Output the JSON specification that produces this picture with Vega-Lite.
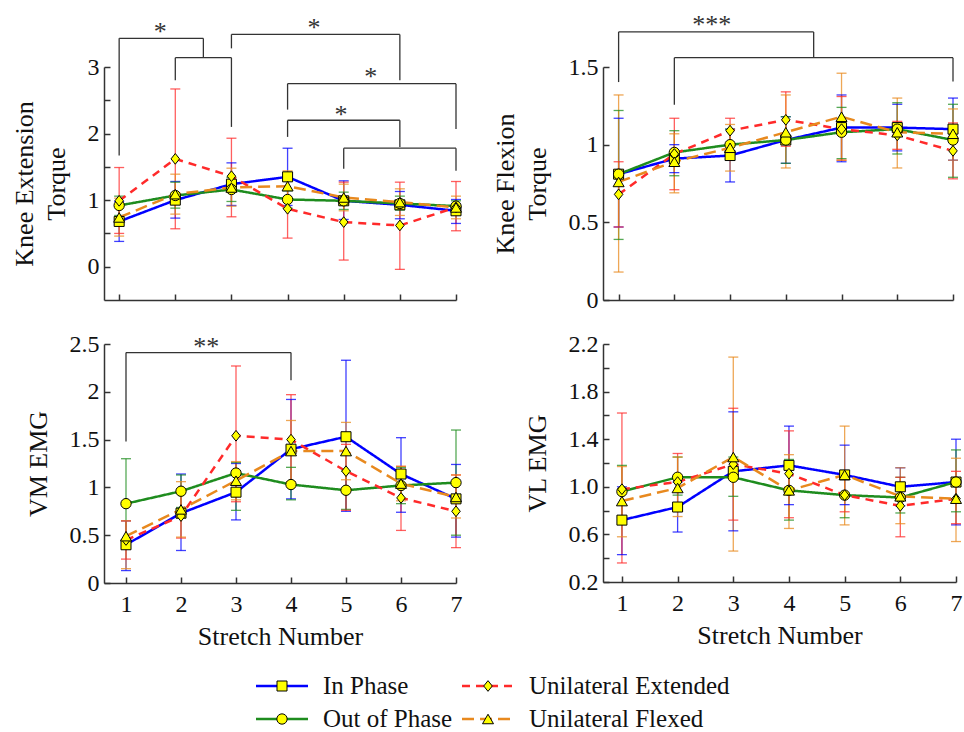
{
  "$schema": "https://vega.github.io/schema/vega-lite/v6.json",
  "padding": {"left": 11, "top": 11, "right": 5, "bottom": 0},
  "background": "white",
  "datasets": {
    "stats": [
      {"panel": "ext", "series": "In Phase", "stretch": 1, "mean": 0.68, "lo": 0.38, "hi": 0.98},
      {"panel": "ext", "series": "In Phase", "stretch": 2, "mean": 1.0, "lo": 0.73, "hi": 1.28},
      {"panel": "ext", "series": "In Phase", "stretch": 3, "mean": 1.24, "lo": 0.92, "hi": 1.56},
      {"panel": "ext", "series": "In Phase", "stretch": 4, "mean": 1.35, "lo": 0.92, "hi": 1.78},
      {"panel": "ext", "series": "In Phase", "stretch": 5, "mean": 0.99, "lo": 0.71, "hi": 1.29},
      {"panel": "ext", "series": "In Phase", "stretch": 6, "mean": 0.93, "lo": 0.72, "hi": 1.13},
      {"panel": "ext", "series": "In Phase", "stretch": 7, "mean": 0.84, "lo": 0.65, "hi": 1.01},
      {"panel": "ext", "series": "Out of Phase", "stretch": 1, "mean": 0.92, "lo": 0.77, "hi": 1.06},
      {"panel": "ext", "series": "Out of Phase", "stretch": 2, "mean": 1.07, "lo": 0.88, "hi": 1.27},
      {"panel": "ext", "series": "Out of Phase", "stretch": 3, "mean": 1.16, "lo": 0.98, "hi": 1.34},
      {"panel": "ext", "series": "Out of Phase", "stretch": 4, "mean": 1.01, "lo": 0.88, "hi": 1.14},
      {"panel": "ext", "series": "Out of Phase", "stretch": 5, "mean": 0.99, "lo": 0.86, "hi": 1.12},
      {"panel": "ext", "series": "Out of Phase", "stretch": 6, "mean": 0.95, "lo": 0.85, "hi": 1.06},
      {"panel": "ext", "series": "Out of Phase", "stretch": 7, "mean": 0.91, "lo": 0.83, "hi": 0.99},
      {"panel": "ext", "series": "Unilateral Extended", "stretch": 1, "mean": 0.99, "lo": 0.5, "hi": 1.49},
      {"panel": "ext", "series": "Unilateral Extended", "stretch": 2, "mean": 1.62, "lo": 0.57, "hi": 2.67},
      {"panel": "ext", "series": "Unilateral Extended", "stretch": 3, "mean": 1.36, "lo": 0.75, "hi": 1.93},
      {"panel": "ext", "series": "Unilateral Extended", "stretch": 4, "mean": 0.87, "lo": 0.43, "hi": 1.33},
      {"panel": "ext", "series": "Unilateral Extended", "stretch": 5, "mean": 0.67, "lo": 0.1, "hi": 1.27},
      {"panel": "ext", "series": "Unilateral Extended", "stretch": 6, "mean": 0.62, "lo": -0.04, "hi": 1.27},
      {"panel": "ext", "series": "Unilateral Extended", "stretch": 7, "mean": 0.89, "lo": 0.54, "hi": 1.28},
      {"panel": "ext", "series": "Unilateral Flexed", "stretch": 1, "mean": 0.74, "lo": 0.46, "hi": 1.03},
      {"panel": "ext", "series": "Unilateral Flexed", "stretch": 2, "mean": 1.09, "lo": 0.79, "hi": 1.39},
      {"panel": "ext", "series": "Unilateral Flexed", "stretch": 3, "mean": 1.19, "lo": 0.91, "hi": 1.48},
      {"panel": "ext", "series": "Unilateral Flexed", "stretch": 4, "mean": 1.21, "lo": 0.98, "hi": 1.44},
      {"panel": "ext", "series": "Unilateral Flexed", "stretch": 5, "mean": 1.04, "lo": 0.84, "hi": 1.24},
      {"panel": "ext", "series": "Unilateral Flexed", "stretch": 6, "mean": 0.97, "lo": 0.77, "hi": 1.17},
      {"panel": "ext", "series": "Unilateral Flexed", "stretch": 7, "mean": 0.89, "lo": 0.72, "hi": 1.06},

      {"panel": "flx", "series": "In Phase", "stretch": 1, "mean": 0.81, "lo": 0.47, "hi": 1.17},
      {"panel": "flx", "series": "In Phase", "stretch": 2, "mean": 0.91, "lo": 0.82, "hi": 1.0},
      {"panel": "flx", "series": "In Phase", "stretch": 3, "mean": 0.93, "lo": 0.76, "hi": 1.1},
      {"panel": "flx", "series": "In Phase", "stretch": 4, "mean": 1.03, "lo": 0.88, "hi": 1.18},
      {"panel": "flx", "series": "In Phase", "stretch": 5, "mean": 1.11, "lo": 0.89, "hi": 1.32},
      {"panel": "flx", "series": "In Phase", "stretch": 6, "mean": 1.11, "lo": 0.96, "hi": 1.26},
      {"panel": "flx", "series": "In Phase", "stretch": 7, "mean": 1.1, "lo": 0.9, "hi": 1.3},
      {"panel": "flx", "series": "Out of Phase", "stretch": 1, "mean": 0.81, "lo": 0.39, "hi": 1.22},
      {"panel": "flx", "series": "Out of Phase", "stretch": 2, "mean": 0.95, "lo": 0.8, "hi": 1.09},
      {"panel": "flx", "series": "Out of Phase", "stretch": 3, "mean": 1.0, "lo": 0.9, "hi": 1.1},
      {"panel": "flx", "series": "Out of Phase", "stretch": 4, "mean": 1.03, "lo": 0.88, "hi": 1.18},
      {"panel": "flx", "series": "Out of Phase", "stretch": 5, "mean": 1.08, "lo": 0.91, "hi": 1.24},
      {"panel": "flx", "series": "Out of Phase", "stretch": 6, "mean": 1.1, "lo": 0.94, "hi": 1.27},
      {"panel": "flx", "series": "Out of Phase", "stretch": 7, "mean": 1.03, "lo": 0.79, "hi": 1.26},
      {"panel": "flx", "series": "Unilateral Extended", "stretch": 1, "mean": 0.68, "lo": 0.47, "hi": 0.89},
      {"panel": "flx", "series": "Unilateral Extended", "stretch": 2, "mean": 0.94, "lo": 0.71, "hi": 1.17},
      {"panel": "flx", "series": "Unilateral Extended", "stretch": 3, "mean": 1.09, "lo": 1.0, "hi": 1.17},
      {"panel": "flx", "series": "Unilateral Extended", "stretch": 4, "mean": 1.16, "lo": 0.99, "hi": 1.34},
      {"panel": "flx", "series": "Unilateral Extended", "stretch": 5, "mean": 1.1, "lo": 0.9, "hi": 1.31},
      {"panel": "flx", "series": "Unilateral Extended", "stretch": 6, "mean": 1.06, "lo": 0.97, "hi": 1.15},
      {"panel": "flx", "series": "Unilateral Extended", "stretch": 7, "mean": 0.96, "lo": 0.78, "hi": 1.14},
      {"panel": "flx", "series": "Unilateral Flexed", "stretch": 1, "mean": 0.76, "lo": 0.18, "hi": 1.32},
      {"panel": "flx", "series": "Unilateral Flexed", "stretch": 2, "mean": 0.89, "lo": 0.69, "hi": 1.07},
      {"panel": "flx", "series": "Unilateral Flexed", "stretch": 3, "mean": 0.98, "lo": 0.83, "hi": 1.13},
      {"panel": "flx", "series": "Unilateral Flexed", "stretch": 4, "mean": 1.08, "lo": 0.85, "hi": 1.32},
      {"panel": "flx", "series": "Unilateral Flexed", "stretch": 5, "mean": 1.18, "lo": 0.9, "hi": 1.46},
      {"panel": "flx", "series": "Unilateral Flexed", "stretch": 6, "mean": 1.08, "lo": 0.85, "hi": 1.3},
      {"panel": "flx", "series": "Unilateral Flexed", "stretch": 7, "mean": 1.07, "lo": 0.9, "hi": 1.23},

      {"panel": "vm", "series": "In Phase", "stretch": 1, "mean": 0.4, "lo": 0.13, "hi": 0.65},
      {"panel": "vm", "series": "In Phase", "stretch": 2, "mean": 0.73, "lo": 0.34, "hi": 1.14},
      {"panel": "vm", "series": "In Phase", "stretch": 3, "mean": 0.95, "lo": 0.66, "hi": 1.25},
      {"panel": "vm", "series": "In Phase", "stretch": 4, "mean": 1.4, "lo": 0.88, "hi": 1.92},
      {"panel": "vm", "series": "In Phase", "stretch": 5, "mean": 1.53, "lo": 0.75, "hi": 2.33},
      {"panel": "vm", "series": "In Phase", "stretch": 6, "mean": 1.14, "lo": 0.74, "hi": 1.52},
      {"panel": "vm", "series": "In Phase", "stretch": 7, "mean": 0.88, "lo": 0.48, "hi": 1.24},
      {"panel": "vm", "series": "Out of Phase", "stretch": 1, "mean": 0.83, "lo": 0.36, "hi": 1.3},
      {"panel": "vm", "series": "Out of Phase", "stretch": 2, "mean": 0.96, "lo": 0.79, "hi": 1.13},
      {"panel": "vm", "series": "Out of Phase", "stretch": 3, "mean": 1.15, "lo": 0.76, "hi": 1.26},
      {"panel": "vm", "series": "Out of Phase", "stretch": 4, "mean": 1.03, "lo": 0.87, "hi": 1.21},
      {"panel": "vm", "series": "Out of Phase", "stretch": 5, "mean": 0.97, "lo": 0.77, "hi": 1.17},
      {"panel": "vm", "series": "Out of Phase", "stretch": 6, "mean": 1.02, "lo": 0.83, "hi": 1.21},
      {"panel": "vm", "series": "Out of Phase", "stretch": 7, "mean": 1.05, "lo": 0.5, "hi": 1.6},
      {"panel": "vm", "series": "Unilateral Extended", "stretch": 1, "mean": 0.45, "lo": 0.25, "hi": 0.65},
      {"panel": "vm", "series": "Unilateral Extended", "stretch": 2, "mean": 0.7, "lo": 0.47, "hi": 0.98},
      {"panel": "vm", "series": "Unilateral Extended", "stretch": 3, "mean": 1.54, "lo": 0.85, "hi": 2.27},
      {"panel": "vm", "series": "Unilateral Extended", "stretch": 4, "mean": 1.5, "lo": 1.03, "hi": 1.97},
      {"panel": "vm", "series": "Unilateral Extended", "stretch": 5, "mean": 1.17, "lo": 0.76, "hi": 1.45},
      {"panel": "vm", "series": "Unilateral Extended", "stretch": 6, "mean": 0.89, "lo": 0.55, "hi": 1.22},
      {"panel": "vm", "series": "Unilateral Extended", "stretch": 7, "mean": 0.75, "lo": 0.37, "hi": 1.13},
      {"panel": "vm", "series": "Unilateral Flexed", "stretch": 1, "mean": 0.49, "lo": 0.15, "hi": 0.65},
      {"panel": "vm", "series": "Unilateral Flexed", "stretch": 2, "mean": 0.77, "lo": 0.48, "hi": 1.06},
      {"panel": "vm", "series": "Unilateral Flexed", "stretch": 3, "mean": 1.07, "lo": 0.87, "hi": 1.27},
      {"panel": "vm", "series": "Unilateral Flexed", "stretch": 4, "mean": 1.38, "lo": 1.06, "hi": 1.7},
      {"panel": "vm", "series": "Unilateral Flexed", "stretch": 5, "mean": 1.38, "lo": 1.08, "hi": 1.68},
      {"panel": "vm", "series": "Unilateral Flexed", "stretch": 6, "mean": 1.04, "lo": 0.86, "hi": 1.22},
      {"panel": "vm", "series": "Unilateral Flexed", "stretch": 7, "mean": 0.9, "lo": 0.68, "hi": 1.13},

      {"panel": "vl", "series": "In Phase", "stretch": 1, "mean": 0.72, "lo": 0.43, "hi": 1.0},
      {"panel": "vl", "series": "In Phase", "stretch": 2, "mean": 0.83, "lo": 0.62, "hi": 1.04},
      {"panel": "vl", "series": "In Phase", "stretch": 3, "mean": 1.13, "lo": 0.63, "hi": 1.63},
      {"panel": "vl", "series": "In Phase", "stretch": 4, "mean": 1.18, "lo": 0.85, "hi": 1.51},
      {"panel": "vl", "series": "In Phase", "stretch": 5, "mean": 1.1, "lo": 0.85, "hi": 1.35},
      {"panel": "vl", "series": "In Phase", "stretch": 6, "mean": 1.0, "lo": 0.84, "hi": 1.16},
      {"panel": "vl", "series": "In Phase", "stretch": 7, "mean": 1.04, "lo": 0.68, "hi": 1.4},
      {"panel": "vl", "series": "Out of Phase", "stretch": 1, "mean": 0.96, "lo": 0.74, "hi": 1.18},
      {"panel": "vl", "series": "Out of Phase", "stretch": 2, "mean": 1.08, "lo": 0.93, "hi": 1.25},
      {"panel": "vl", "series": "Out of Phase", "stretch": 3, "mean": 1.08, "lo": 0.92, "hi": 1.25},
      {"panel": "vl", "series": "Out of Phase", "stretch": 4, "mean": 0.97, "lo": 0.72, "hi": 1.23},
      {"panel": "vl", "series": "Out of Phase", "stretch": 5, "mean": 0.93, "lo": 0.74, "hi": 1.13},
      {"panel": "vl", "series": "Out of Phase", "stretch": 6, "mean": 0.91, "lo": 0.78, "hi": 1.08},
      {"panel": "vl", "series": "Out of Phase", "stretch": 7, "mean": 1.04, "lo": 0.79, "hi": 1.31},
      {"panel": "vl", "series": "Unilateral Extended", "stretch": 1, "mean": 0.98, "lo": 0.36, "hi": 1.62},
      {"panel": "vl", "series": "Unilateral Extended", "stretch": 2, "mean": 1.04, "lo": 0.8, "hi": 1.28},
      {"panel": "vl", "series": "Unilateral Extended", "stretch": 3, "mean": 1.19, "lo": 0.72, "hi": 1.66},
      {"panel": "vl", "series": "Unilateral Extended", "stretch": 4, "mean": 1.11, "lo": 0.74, "hi": 1.47},
      {"panel": "vl", "series": "Unilateral Extended", "stretch": 5, "mean": 0.93, "lo": 0.79, "hi": 1.08},
      {"panel": "vl", "series": "Unilateral Extended", "stretch": 6, "mean": 0.84, "lo": 0.58, "hi": 1.08},
      {"panel": "vl", "series": "Unilateral Extended", "stretch": 7, "mean": 0.9, "lo": 0.69, "hi": 1.13},
      {"panel": "vl", "series": "Unilateral Flexed", "stretch": 1, "mean": 0.88, "lo": 0.58, "hi": 1.17},
      {"panel": "vl", "series": "Unilateral Flexed", "stretch": 2, "mean": 0.99, "lo": 0.75, "hi": 1.25},
      {"panel": "vl", "series": "Unilateral Flexed", "stretch": 3, "mean": 1.25, "lo": 0.46, "hi": 2.09},
      {"panel": "vl", "series": "Unilateral Flexed", "stretch": 4, "mean": 0.97, "lo": 0.65, "hi": 1.27},
      {"panel": "vl", "series": "Unilateral Flexed", "stretch": 5, "mean": 1.1, "lo": 0.68, "hi": 1.51},
      {"panel": "vl", "series": "Unilateral Flexed", "stretch": 6, "mean": 0.92, "lo": 0.69, "hi": 1.16},
      {"panel": "vl", "series": "Unilateral Flexed", "stretch": 7, "mean": 0.9, "lo": 0.54, "hi": 1.24}
    ],
    "brackets": [
      {"panel": "ext", "from": 1, "to": 2.5, "top": 3.43, "leftEnd": 1.67, "rightEnd": 3.14},
      {"panel": "ext", "from": 2, "to": 3, "top": 3.14, "leftEnd": 2.8, "rightEnd": 2.1},
      {"panel": "ext", "from": 3, "to": 6, "top": 3.49, "leftEnd": 3.28, "rightEnd": 2.8},
      {"panel": "ext", "from": 4, "to": 7, "top": 2.75, "leftEnd": 2.36, "rightEnd": 2.07},
      {"panel": "ext", "from": 4, "to": 6, "top": 2.2, "leftEnd": 1.95, "rightEnd": 1.8},
      {"panel": "ext", "from": 5, "to": 7, "top": 1.78, "leftEnd": 1.47, "rightEnd": 1.44},
      {"panel": "flx", "from": 1, "to": 4.5, "top": 1.726, "leftEnd": 1.403, "rightEnd": 1.56},
      {"panel": "flx", "from": 2, "to": 7, "top": 1.56, "leftEnd": 1.257, "rightEnd": 1.407},
      {"panel": "vm", "from": 1, "to": 4, "top": 2.41, "leftEnd": 1.48, "rightEnd": 2.12}
    ],
    "stars": [
      {"panel": "ext", "at": 1.73, "level": 3.6, "mark": "*"},
      {"panel": "ext", "at": 4.47, "level": 3.66, "mark": "*"},
      {"panel": "ext", "at": 5.48, "level": 2.93, "mark": "*"},
      {"panel": "ext", "at": 4.95, "level": 2.36, "mark": "*"},
      {"panel": "flx", "at": 2.67, "level": 1.805, "mark": "***"},
      {"panel": "vm", "at": 2.46, "level": 2.52, "mark": "**"}
    ],
    "key": [
      {"series": "In Phase", "group": "Bilateral", "slot": "upper"},
      {"series": "Out of Phase", "group": "Bilateral", "slot": "lower"},
      {"series": "Unilateral Extended", "group": "Unilateral", "slot": "upper"},
      {"series": "Unilateral Flexed", "group": "Unilateral", "slot": "lower"}
    ]
  },
  "vconcat": [
    {
      "columns": 2,
      "spacing": {"row": 20, "column": 28},
      "concat": [
        {
          "width": 352, "height": 233,
          "encoding": {
            "x": {"field": "stretch", "type": "quantitative", "scale": {"domain": [0.73, 7], "nice": false, "zero": false}, "axis": {"values": [1, 2, 3, 4, 5, 6, 7], "labels": false, "title": null}},
            "y": {"field": "mean", "type": "quantitative", "scale": {"domain": [-0.5, 3], "nice": false, "zero": false}, "axis": {"values": [0, 0.5, 1, 1.5, 2, 2.5, 3], "labelExpr": "datum.value % 1 === 0 ? format(datum.value, 'd') : ''", "title": ["Knee Extension", "Torque"]}}
          },
          "layer": [
            {"data": {"name": "stats"}, "transform": [{"filter": "datum.panel === 'ext'"}], "mark": {"type": "rule", "strokeWidth": 1.3, "opacity": 0.75}, "encoding": {"y": {"field": "lo", "type": "quantitative"}, "y2": {"field": "hi"}, "color": {"field": "series", "type": "nominal", "scale": {"domain": ["In Phase", "Out of Phase", "Unilateral Extended", "Unilateral Flexed"], "range": ["#0000FF", "#1E8C1E", "#FF2A2A", "#E8891E"]}, "legend": null}}},
            {"data": {"name": "stats"}, "transform": [{"filter": "datum.panel === 'ext'"}], "mark": {"type": "tick", "orient": "horizontal", "size": 10, "thickness": 1.3, "opacity": 0.75}, "encoding": {"y": {"field": "lo", "type": "quantitative"}, "color": {"field": "series", "type": "nominal", "legend": null}}},
            {"data": {"name": "stats"}, "transform": [{"filter": "datum.panel === 'ext'"}], "mark": {"type": "tick", "orient": "horizontal", "size": 10, "thickness": 1.3, "opacity": 0.75}, "encoding": {"y": {"field": "hi", "type": "quantitative"}, "color": {"field": "series", "type": "nominal", "legend": null}}},
            {"data": {"name": "stats"}, "transform": [{"filter": "datum.panel === 'ext'"}], "mark": {"type": "line", "strokeWidth": 2.5}, "encoding": {"color": {"field": "series", "type": "nominal", "legend": null}, "strokeDash": {"field": "series", "type": "nominal", "scale": {"domain": ["In Phase", "Out of Phase", "Unilateral Extended", "Unilateral Flexed"], "range": [[1, 0], [1, 0], [8, 6], [12, 6]]}, "legend": null}}},
            {"data": {"name": "stats"}, "transform": [{"filter": "datum.panel === 'ext'"}], "mark": {"type": "point", "filled": true, "fill": "#FFFF00", "stroke": "#000000", "strokeWidth": 1, "opacity": 1}, "encoding": {"shape": {"field": "series", "type": "nominal", "scale": {"domain": ["In Phase", "Out of Phase", "Unilateral Extended", "Unilateral Flexed"], "range": ["square", "circle", "M0,-1L0.8,0L0,1L-0.8,0Z", "triangle-up"]}, "legend": null}, "size": {"field": "series", "type": "nominal", "scale": {"domain": ["In Phase", "Out of Phase", "Unilateral Extended", "Unilateral Flexed"], "range": [100, 121, 240, 170]}, "legend": null}}},
            {"data": {"name": "brackets"}, "transform": [{"filter": "datum.panel === 'ext'"}], "mark": {"type": "rule", "color": "#333333", "strokeWidth": 1.3}, "encoding": {"x": {"field": "from", "type": "quantitative"}, "y": {"field": "top", "type": "quantitative"}, "y2": {"field": "leftEnd"}}},
            {"data": {"name": "brackets"}, "transform": [{"filter": "datum.panel === 'ext'"}], "mark": {"type": "rule", "color": "#333333", "strokeWidth": 1.3}, "encoding": {"x": {"field": "to", "type": "quantitative"}, "y": {"field": "top", "type": "quantitative"}, "y2": {"field": "rightEnd"}}},
            {"data": {"name": "brackets"}, "transform": [{"filter": "datum.panel === 'ext'"}], "mark": {"type": "rule", "color": "#333333", "strokeWidth": 1.3}, "encoding": {"x": {"field": "from", "type": "quantitative"}, "x2": {"field": "to"}, "y": {"field": "top", "type": "quantitative"}}},
            {"data": {"name": "stars"}, "transform": [{"filter": "datum.panel === 'ext'"}], "mark": {"type": "text", "font": "Liberation Serif", "fontSize": 26, "color": "#333333", "baseline": "middle", "dy": 5}, "encoding": {"x": {"field": "at", "type": "quantitative"}, "y": {"field": "level", "type": "quantitative"}, "text": {"field": "mark"}}}
          ]
        },
        {
          "width": 350, "height": 233,
          "encoding": {
            "x": {"field": "stretch", "type": "quantitative", "scale": {"domain": [0.72, 7], "nice": false, "zero": false}, "axis": {"values": [1, 2, 3, 4, 5, 6, 7], "labels": false, "title": null}},
            "y": {"field": "mean", "type": "quantitative", "scale": {"domain": [0, 1.5], "nice": false, "zero": false}, "axis": {"values": [0, 0.5, 1, 1.5], "format": "~g", "title": ["Knee Flexion", "Torque"]}}
          },
          "layer": [
            {"data": {"name": "stats"}, "transform": [{"filter": "datum.panel === 'flx'"}], "mark": {"type": "rule", "strokeWidth": 1.3, "opacity": 0.75}, "encoding": {"y": {"field": "lo", "type": "quantitative"}, "y2": {"field": "hi"}, "color": {"field": "series", "type": "nominal", "scale": {"domain": ["In Phase", "Out of Phase", "Unilateral Extended", "Unilateral Flexed"], "range": ["#0000FF", "#1E8C1E", "#FF2A2A", "#E8891E"]}, "legend": null}}},
            {"data": {"name": "stats"}, "transform": [{"filter": "datum.panel === 'flx'"}], "mark": {"type": "tick", "orient": "horizontal", "size": 10, "thickness": 1.3, "opacity": 0.75}, "encoding": {"y": {"field": "lo", "type": "quantitative"}, "color": {"field": "series", "type": "nominal", "legend": null}}},
            {"data": {"name": "stats"}, "transform": [{"filter": "datum.panel === 'flx'"}], "mark": {"type": "tick", "orient": "horizontal", "size": 10, "thickness": 1.3, "opacity": 0.75}, "encoding": {"y": {"field": "hi", "type": "quantitative"}, "color": {"field": "series", "type": "nominal", "legend": null}}},
            {"data": {"name": "stats"}, "transform": [{"filter": "datum.panel === 'flx'"}], "mark": {"type": "line", "strokeWidth": 2.5}, "encoding": {"color": {"field": "series", "type": "nominal", "legend": null}, "strokeDash": {"field": "series", "type": "nominal", "scale": {"domain": ["In Phase", "Out of Phase", "Unilateral Extended", "Unilateral Flexed"], "range": [[1, 0], [1, 0], [8, 6], [12, 6]]}, "legend": null}}},
            {"data": {"name": "stats"}, "transform": [{"filter": "datum.panel === 'flx'"}], "mark": {"type": "point", "filled": true, "fill": "#FFFF00", "stroke": "#000000", "strokeWidth": 1, "opacity": 1}, "encoding": {"shape": {"field": "series", "type": "nominal", "scale": {"domain": ["In Phase", "Out of Phase", "Unilateral Extended", "Unilateral Flexed"], "range": ["square", "circle", "M0,-1L0.8,0L0,1L-0.8,0Z", "triangle-up"]}, "legend": null}, "size": {"field": "series", "type": "nominal", "scale": {"domain": ["In Phase", "Out of Phase", "Unilateral Extended", "Unilateral Flexed"], "range": [100, 121, 240, 170]}, "legend": null}}},
            {"data": {"name": "brackets"}, "transform": [{"filter": "datum.panel === 'flx'"}], "mark": {"type": "rule", "color": "#333333", "strokeWidth": 1.3}, "encoding": {"x": {"field": "from", "type": "quantitative"}, "y": {"field": "top", "type": "quantitative"}, "y2": {"field": "leftEnd"}}},
            {"data": {"name": "brackets"}, "transform": [{"filter": "datum.panel === 'flx'"}], "mark": {"type": "rule", "color": "#333333", "strokeWidth": 1.3}, "encoding": {"x": {"field": "to", "type": "quantitative"}, "y": {"field": "top", "type": "quantitative"}, "y2": {"field": "rightEnd"}}},
            {"data": {"name": "brackets"}, "transform": [{"filter": "datum.panel === 'flx'"}], "mark": {"type": "rule", "color": "#333333", "strokeWidth": 1.3}, "encoding": {"x": {"field": "from", "type": "quantitative"}, "x2": {"field": "to"}, "y": {"field": "top", "type": "quantitative"}}},
            {"data": {"name": "stars"}, "transform": [{"filter": "datum.panel === 'flx'"}], "mark": {"type": "text", "font": "Liberation Serif", "fontSize": 26, "color": "#333333", "baseline": "middle", "dy": 5}, "encoding": {"x": {"field": "at", "type": "quantitative"}, "y": {"field": "level", "type": "quantitative"}, "text": {"field": "mark"}}}
          ]
        },
        {
          "width": 352, "height": 239,
          "encoding": {
            "x": {"field": "stretch", "type": "quantitative", "scale": {"domain": [0.6, 7], "nice": false, "zero": false}, "axis": {"values": [1, 2, 3, 4, 5, 6, 7], "title": "Stretch Number"}},
            "y": {"field": "mean", "type": "quantitative", "scale": {"domain": [0, 2.5], "nice": false, "zero": false}, "axis": {"values": [0, 0.5, 1, 1.5, 2, 2.5], "format": "~g", "title": "VM EMG"}}
          },
          "layer": [
            {"data": {"name": "stats"}, "transform": [{"filter": "datum.panel === 'vm'"}], "mark": {"type": "rule", "strokeWidth": 1.3, "opacity": 0.75}, "encoding": {"y": {"field": "lo", "type": "quantitative"}, "y2": {"field": "hi"}, "color": {"field": "series", "type": "nominal", "scale": {"domain": ["In Phase", "Out of Phase", "Unilateral Extended", "Unilateral Flexed"], "range": ["#0000FF", "#1E8C1E", "#FF2A2A", "#E8891E"]}, "legend": null}}},
            {"data": {"name": "stats"}, "transform": [{"filter": "datum.panel === 'vm'"}], "mark": {"type": "tick", "orient": "horizontal", "size": 10, "thickness": 1.3, "opacity": 0.75}, "encoding": {"y": {"field": "lo", "type": "quantitative"}, "color": {"field": "series", "type": "nominal", "legend": null}}},
            {"data": {"name": "stats"}, "transform": [{"filter": "datum.panel === 'vm'"}], "mark": {"type": "tick", "orient": "horizontal", "size": 10, "thickness": 1.3, "opacity": 0.75}, "encoding": {"y": {"field": "hi", "type": "quantitative"}, "color": {"field": "series", "type": "nominal", "legend": null}}},
            {"data": {"name": "stats"}, "transform": [{"filter": "datum.panel === 'vm'"}], "mark": {"type": "line", "strokeWidth": 2.5}, "encoding": {"color": {"field": "series", "type": "nominal", "legend": null}, "strokeDash": {"field": "series", "type": "nominal", "scale": {"domain": ["In Phase", "Out of Phase", "Unilateral Extended", "Unilateral Flexed"], "range": [[1, 0], [1, 0], [8, 6], [12, 6]]}, "legend": null}}},
            {"data": {"name": "stats"}, "transform": [{"filter": "datum.panel === 'vm'"}], "mark": {"type": "point", "filled": true, "fill": "#FFFF00", "stroke": "#000000", "strokeWidth": 1, "opacity": 1}, "encoding": {"shape": {"field": "series", "type": "nominal", "scale": {"domain": ["In Phase", "Out of Phase", "Unilateral Extended", "Unilateral Flexed"], "range": ["square", "circle", "M0,-1L0.8,0L0,1L-0.8,0Z", "triangle-up"]}, "legend": null}, "size": {"field": "series", "type": "nominal", "scale": {"domain": ["In Phase", "Out of Phase", "Unilateral Extended", "Unilateral Flexed"], "range": [100, 121, 240, 170]}, "legend": null}}},
            {"data": {"name": "brackets"}, "transform": [{"filter": "datum.panel === 'vm'"}], "mark": {"type": "rule", "color": "#333333", "strokeWidth": 1.3}, "encoding": {"x": {"field": "from", "type": "quantitative"}, "y": {"field": "top", "type": "quantitative"}, "y2": {"field": "leftEnd"}}},
            {"data": {"name": "brackets"}, "transform": [{"filter": "datum.panel === 'vm'"}], "mark": {"type": "rule", "color": "#333333", "strokeWidth": 1.3}, "encoding": {"x": {"field": "to", "type": "quantitative"}, "y": {"field": "top", "type": "quantitative"}, "y2": {"field": "rightEnd"}}},
            {"data": {"name": "brackets"}, "transform": [{"filter": "datum.panel === 'vm'"}], "mark": {"type": "rule", "color": "#333333", "strokeWidth": 1.3}, "encoding": {"x": {"field": "from", "type": "quantitative"}, "x2": {"field": "to"}, "y": {"field": "top", "type": "quantitative"}}},
            {"data": {"name": "stars"}, "transform": [{"filter": "datum.panel === 'vm'"}], "mark": {"type": "text", "font": "Liberation Serif", "fontSize": 26, "color": "#333333", "baseline": "middle", "dy": 5}, "encoding": {"x": {"field": "at", "type": "quantitative"}, "y": {"field": "level", "type": "quantitative"}, "text": {"field": "mark"}}}
          ]
        },
        {
          "width": 353, "height": 238,
          "encoding": {
            "x": {"field": "stretch", "type": "quantitative", "scale": {"domain": [0.66, 7], "nice": false, "zero": false}, "axis": {"values": [1, 2, 3, 4, 5, 6, 7], "title": "Stretch Number"}},
            "y": {"field": "mean", "type": "quantitative", "scale": {"domain": [0.2, 2.2], "nice": false, "zero": false}, "axis": {"values": [0.2, 0.4, 0.6, 0.8, 1.0, 1.2, 1.4, 1.6, 1.8, 2.0, 2.2], "labelExpr": "abs((datum.value - 0.2) / 0.4 - round((datum.value - 0.2) / 0.4)) < 0.01 ? format(datum.value, '.1f') : ''", "title": "VL EMG"}}
          },
          "layer": [
            {"data": {"name": "stats"}, "transform": [{"filter": "datum.panel === 'vl'"}], "mark": {"type": "rule", "strokeWidth": 1.3, "opacity": 0.75}, "encoding": {"y": {"field": "lo", "type": "quantitative"}, "y2": {"field": "hi"}, "color": {"field": "series", "type": "nominal", "scale": {"domain": ["In Phase", "Out of Phase", "Unilateral Extended", "Unilateral Flexed"], "range": ["#0000FF", "#2E8B57", "#FF2A2A", "#E8891E"]}, "legend": null}}},
            {"data": {"name": "stats"}, "transform": [{"filter": "datum.panel === 'vl'"}], "mark": {"type": "tick", "orient": "horizontal", "size": 10, "thickness": 1.3, "opacity": 0.75}, "encoding": {"y": {"field": "lo", "type": "quantitative"}, "color": {"field": "series", "type": "nominal", "legend": null}}},
            {"data": {"name": "stats"}, "transform": [{"filter": "datum.panel === 'vl'"}], "mark": {"type": "tick", "orient": "horizontal", "size": 10, "thickness": 1.3, "opacity": 0.75}, "encoding": {"y": {"field": "hi", "type": "quantitative"}, "color": {"field": "series", "type": "nominal", "legend": null}}},
            {"data": {"name": "stats"}, "transform": [{"filter": "datum.panel === 'vl'"}], "mark": {"type": "line", "strokeWidth": 2.5}, "encoding": {"color": {"field": "series", "type": "nominal", "legend": null}, "strokeDash": {"field": "series", "type": "nominal", "scale": {"domain": ["In Phase", "Out of Phase", "Unilateral Extended", "Unilateral Flexed"], "range": [[1, 0], [1, 0], [8, 6], [8, 5]]}, "legend": null}}},
            {"data": {"name": "stats"}, "transform": [{"filter": "datum.panel === 'vl'"}], "mark": {"type": "point", "filled": true, "fill": "#FFFF00", "stroke": "#000000", "strokeWidth": 1, "opacity": 1}, "encoding": {"shape": {"field": "series", "type": "nominal", "scale": {"domain": ["In Phase", "Out of Phase", "Unilateral Extended", "Unilateral Flexed"], "range": ["square", "circle", "M0,-1L0.8,0L0,1L-0.8,0Z", "triangle-up"]}, "legend": null}, "size": {"field": "series", "type": "nominal", "scale": {"domain": ["In Phase", "Out of Phase", "Unilateral Extended", "Unilateral Flexed"], "range": [100, 121, 240, 170]}, "legend": null}}}
          ]
        }
      ]
    },
    {
      "width": 700, "height": 33,
      "data": {"name": "key"},
      "encoding": {
        "x": {"field": "group", "type": "nominal", "scale": {"type": "point", "padding": 0, "domain": ["Bilateral", "Unilateral"], "range": [178, 384]}, "axis": null},
        "y": {"field": "slot", "type": "nominal", "scale": {"type": "point", "padding": 0, "domain": ["upper", "lower"], "range": [0, 33]}, "axis": null}
      },
      "layer": [
        {"mark": {"type": "point", "shape": "M-1,0L1,0", "size": 2704, "strokeWidth": 2.5, "filled": false, "opacity": 1}, "encoding": {"color": {"field": "series", "type": "nominal", "scale": {"domain": ["In Phase", "Out of Phase", "Unilateral Extended", "Unilateral Flexed"], "range": ["#0000FF", "#1E8C1E", "#FF2A2A", "#E8891E"]}, "legend": null}, "strokeDash": {"field": "series", "type": "nominal", "scale": {"domain": ["In Phase", "Out of Phase", "Unilateral Extended", "Unilateral Flexed"], "range": [[1, 0], [1, 0], [8, 36, 8], [10, 32, 10]]}, "legend": null}}},
        {"mark": {"type": "point", "filled": true, "fill": "#FFFF00", "stroke": "#000000", "strokeWidth": 1, "opacity": 1}, "encoding": {"shape": {"field": "series", "type": "nominal", "scale": {"domain": ["In Phase", "Out of Phase", "Unilateral Extended", "Unilateral Flexed"], "range": ["square", "circle", "M0,-1L0.6,0L0,1L-0.6,0Z", "triangle-up"]}, "legend": null}, "size": {"field": "series", "type": "nominal", "scale": {"domain": ["In Phase", "Out of Phase", "Unilateral Extended", "Unilateral Flexed"], "range": [225, 289, 484, 400]}, "legend": null}}},
        {"mark": {"type": "text", "align": "left", "baseline": "middle", "dx": 41, "font": "Liberation Serif", "fontSize": 25, "color": "#111111"}, "encoding": {"text": {"field": "series"}}}
      ]
    }
  ],
  "spacing": 25,
  "config": {
    "view": {"stroke": null},
    "font": "Liberation Serif",
    "axis": {
      "labelFont": "Liberation Serif", "titleFont": "Liberation Serif",
      "labelFontSize": 24, "titleFontSize": 26, "titleFontWeight": "normal",
      "labelColor": "#111111", "titleColor": "#111111",
      "domainColor": "#333333", "tickColor": "#333333",
      "domainWidth": 1.5, "tickWidth": 1.5, "tickSize": -6,
      "labelPadding": 11, "grid": false, "labelFlush": false, "labelOverlap": false,
      "titleLineHeight": 32
    },
    "axisY": {"titlePadding": 18},
    "axisX": {"titlePadding": 7, "labelPadding": 15}
  }
}
